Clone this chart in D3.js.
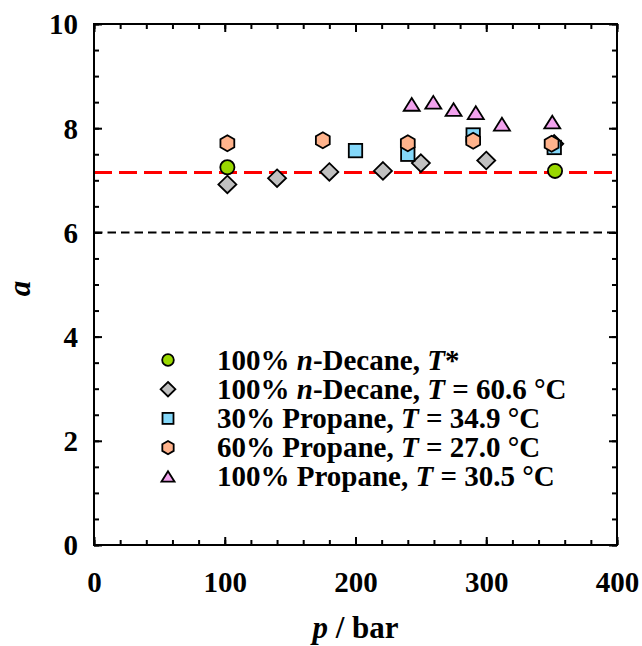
<!DOCTYPE html>
<html>
<head>
<meta charset="utf-8">
<script src="https://cdn.jsdelivr.net/npm/d3@7/dist/d3.min.js"></script>
<style>
  html, body { margin: 0; padding: 0; background: #fff; }
</style>
</head>
<body>
<svg id="chart" width="642" height="646"></svg>
<script>
// Measured parameter a versus pressure p for each fluid system
const decaneTstar = [[102, 7.25], [352.6, 7.18]];
const decane606   = [[102, 6.92], [140, 7.04], [180, 7.16], [221, 7.18], [250, 7.33], [300, 7.38], [352, 7.70]];
const propane30   = [[200, 7.57], [240, 7.50], [290, 7.87], [352, 7.63]];
const propane60   = [[102, 7.71], [175, 7.77], [240, 7.71], [290, 7.76], [350, 7.70]];
const propane100  = [[243, 8.45], [259.5, 8.49], [275, 8.35], [292, 8.29], [312, 8.07], [350.5, 8.11]];

// Reference levels
const meanLevel = 7.15;
const baseLevel = 6;

const xTicks = [0, 100, 200, 300, 400];
const yTicks = [0, 2, 4, 6, 8, 10];

const FONT = '"Liberation Serif", "Times New Roman", Times, serif';

const margin = { left: 94, top: 24, right: 25, bottom: 101 };
const W = 642, H = 646;
const w = W - margin.left - margin.right;
const h = H - margin.top - margin.bottom;

const svg = d3.select("#chart");
const g = svg.append("g").attr("transform", `translate(${margin.left},${margin.top})`);

const x = d3.scaleLinear().domain([0, 400]).range([0, w]);
const y = d3.scaleLinear().domain([0, 10]).range([h, 0]);

const xMinor = d3.range(0, 401, 20);
const yMinor = d3.range(0, 10.01, 0.5);

function serif(sel, size) {
  return sel.style("font-family", FONT).style("font-weight", "bold")
    .style("font-size", size + "px").attr("fill", "#000");
}

// Frame ticks (inward on all four sides)
function styleAxis(sel) {
  sel.select(".domain").remove();
  sel.selectAll(".tick line").attr("stroke", "#000").attr("stroke-width", 2);
}
g.append("g").attr("transform", `translate(0,${h})`)
  .call(d3.axisBottom(x).tickValues(xMinor).tickSize(-5).tickFormat("")).call(styleAxis);
g.append("g").attr("transform", `translate(0,${h})`)
  .call(d3.axisBottom(x).tickValues(xTicks).tickSize(-8).tickFormat(d3.format("d")))
  .call(styleAxis)
  .call(s => serif(s.selectAll("text"), 29).attr("dy", null).attr("y", 47));
g.append("g")
  .call(d3.axisTop(x).tickValues(xMinor).tickSize(-5).tickFormat("")).call(styleAxis);
g.append("g")
  .call(d3.axisTop(x).tickValues(xTicks).tickSize(-8).tickFormat("")).call(styleAxis);

g.append("g")
  .call(d3.axisLeft(y).tickValues(yMinor).tickSize(-5).tickFormat("")).call(styleAxis);
g.append("g")
  .call(d3.axisLeft(y).tickValues(yTicks).tickSize(-8).tickFormat(d3.format("d")))
  .call(styleAxis)
  .call(s => serif(s.selectAll("text"), 29).attr("x", -16).attr("dy", "0.34em"));
g.append("g").attr("transform", `translate(${w},0)`)
  .call(d3.axisRight(y).tickValues(yMinor).tickSize(-5).tickFormat("")).call(styleAxis);
g.append("g").attr("transform", `translate(${w},0)`)
  .call(d3.axisRight(y).tickValues(yTicks).tickSize(-8).tickFormat("")).call(styleAxis);

// Horizontal reference lines
g.append("line")
  .attr("x1", 0).attr("x2", w).attr("y1", y(baseLevel)).attr("y2", y(baseLevel))
  .attr("stroke", "#000").attr("stroke-width", 2).attr("stroke-dasharray", "8.5,5");
g.append("line")
  .attr("x1", 0).attr("x2", w).attr("y1", y(meanLevel)).attr("y2", y(meanLevel))
  .attr("stroke", "#ff0000").attr("stroke-width", 3).attr("stroke-dasharray", "18,7");

// Marker shapes
function hexPath(r) {
  return d3.range(6).map(i => {
    const a = (-90 + 60 * i) * Math.PI / 180;
    return [r * Math.cos(a), r * Math.sin(a)];
  });
}
const shapes = {
  circle: (sel, s) => sel.append("circle").attr("r", 7.1 * s),
  diamond: (sel, s) => sel.append("polygon")
    .attr("points", [[0, -8.8 * s], [9 * s, 0], [0, 8.8 * s], [-9 * s, 0]].join(" ")),
  square: (sel, s) => sel.append("rect")
    .attr("x", -6.7 * s).attr("y", -6.7 * s).attr("width", 13.4 * s).attr("height", 13.4 * s),
  hexagon: (sel, s) => sel.append("polygon").attr("points", hexPath(8 * s).join(" ")),
  triangle: (sel, s) => sel.append("polygon")
    .attr("points", [[0, -6.8 * s], [8 * s, 6 * s], [-8 * s, 6 * s]].join(" "))
};

const series = [
  { data: decaneTstar, shape: "circle",   fill: "#99d800", label: [["100% ", ""], ["n", "i"], ["-Decane, ", ""], ["T", "i"], ["*", ""]] },
  { data: decane606,   shape: "diamond",  fill: "#c0c0c0", label: [["100% ", ""], ["n", "i"], ["-Decane, ", ""], ["T", "i"], [" = 60.6 °C", ""]] },
  { data: propane30,   shape: "square",   fill: "#84d8fa", label: [["30% Propane, ", ""], ["T", "i"], [" = 34.9 °C", ""]] },
  { data: propane60,   shape: "hexagon",  fill: "#ffb38c", label: [["60% Propane, ", ""], ["T", "i"], [" = 27.0 °C", ""]] },
  { data: propane100,  shape: "triangle", fill: "#f2a2ee", label: [["100% Propane, ", ""], ["T", "i"], [" = 30.5 °C", ""]] }
];

const marks = g.append("g");
series.forEach(sr => {
  sr.data.forEach(([p, a]) => {
    const m = marks.append("g").attr("transform", `translate(${x(p)},${y(a)})`);
    shapes[sr.shape](m, 1).attr("fill", sr.fill).attr("stroke", "#000").attr("stroke-width", 1.8);
  });
});

// Legend
const legend = svg.append("g");
series.forEach((sr, i) => {
  const cy = 360 + i * 29.2;
  const m = legend.append("g").attr("transform", `translate(168,${cy})`);
  shapes[sr.shape](m, 0.82).attr("fill", sr.fill).attr("stroke", "#000").attr("stroke-width", 1.8);
  const t = serif(legend.append("text").attr("x", 217).attr("y", cy + 9.5), 29);
  sr.label.forEach(([txt, st]) => {
    const ts = t.append("tspan").text(txt);
    if (st === "i") ts.style("font-style", "italic");
  });
});

// Frame
g.append("rect").attr("x", 0).attr("y", 0).attr("width", w).attr("height", h)
  .attr("fill", "none").attr("stroke", "#000").attr("stroke-width", 2);

// Axis titles
const xt = serif(svg.append("text").attr("x", margin.left + w / 2).attr("y", 638)
  .attr("text-anchor", "middle"), 31);
xt.append("tspan").style("font-style", "italic").text("p");
xt.append("tspan").text(" / bar");

serif(svg.append("text")
  .attr("transform", `translate(30,${margin.top + h / 2 + 4}) rotate(-90)`)
  .attr("text-anchor", "middle"), 31).style("font-style", "italic").text("a");
</script>
</body>
</html>
